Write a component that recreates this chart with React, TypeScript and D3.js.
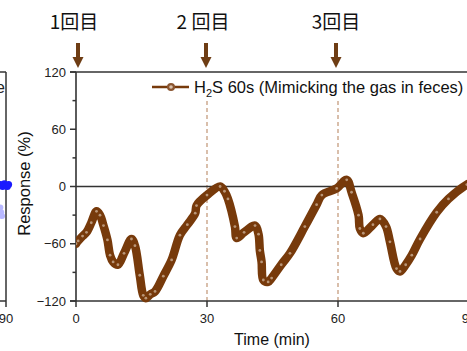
import { curveCatmullRom, line, scaleLinear } from "d3";

// H2S 60s response (time in min, response in %)
const times = [
  0, 0.5, 1.5, 2.4, 3.5, 4.7, 5.5, 6.3, 7.2, 7.8, 8.5, 9.6, 11, 12.7, 13.5, 14.6, 15.4, 16,
  17, 18.1, 20, 21.9, 23.8, 25.5, 27.3, 27.6, 30, 33, 34, 34.8, 36.4, 36.8, 38.5, 41, 41.8,
  42.1, 42.5, 42.9, 44, 44.8, 47, 49, 52.4, 55.1, 56.3, 59.7, 62, 63.1, 64.7, 65, 65.8, 68,
  69.6, 71, 71.9, 73.4, 74.2, 75.5, 76.9, 78.8, 82.6, 85.3, 89.5, 91,
];
const responses = [
  -60, -57, -52, -48, -38, -26, -30, -41, -56, -72, -79, -82, -70, -55, -62, -93, -114, -117,
  -113, -110, -94, -77, -51, -40, -28, -20, -9, 0, -5, -13, -42, -54, -48, -41, -50,
  -67, -79, -98, -100, -96, -82, -70, -42, -19, -9, -2, 7, -6, -30, -44, -49, -40,
  -34, -42, -58, -86, -89, -82, -72, -55, -27, -13, 2, 5,
];

// neighbouring panel, only its right edge is in view
const leftTimes = [88.7, 89.2, 89.6, 90, 90.3, 90.6];
const leftResponses = [2, 0, 3, 1, 0, 2];
const leftFaintTimes = [88.7, 88.9, 89.1];
const leftFaintResponses = [-22, -27, -31];

const xTicks = [0, 30, 60, 90];
const yTicks = [-120, -60, 0, 60, 120];
const yMinor = [-90, -30, 30, 90];
const runs = [
  { t: 0, label: "1回目", dx: 2, tx: -2 },
  { t: 30, label: "2 回目", dx: -1, tx: -4 },
  { t: 60, label: "3回目", dx: -2, tx: -2 },
];

const W = 467;
const H = 351;
const brown = "#773a0b";
const axis = "#333";
const font = "'Liberation Sans', Arial, sans-serif";

export default function App() {
  const x = scaleLinear().domain([0, 90]).range([76, 469]);
  const y = scaleLinear().domain([-120, 120]).range([301, 72]);
  const xl = scaleLinear().domain([0, 90]).range([6 - 393, 6]);

  const pts = times.map((t, i) => [t, responses[i]] as [number, number]);
  const path = line<[number, number]>()
    .curve(curveCatmullRom.alpha(0.5))
    .x((d) => x(d[0]))
    .y((d) => y(d[1]))(pts);

  return (
    <svg
      width={W}
      height={H}
      style={{ position: "absolute", left: 0, top: 0 }}
      fontFamily={font}
    >
      <defs>
        <clipPath id="plot">
          <rect x={x(0)} y={0} width={W} height={H} />
        </clipPath>
      </defs>

      {/* left neighbour panel */}
      <line x1={0} x2={xl(90)} y1={y(120)} y2={y(120)} stroke={axis} strokeWidth={1.5} />
      <line x1={0} x2={xl(90)} y1={y(-120)} y2={y(-120)} stroke={axis} strokeWidth={1.5} />
      <line x1={0} x2={xl(90)} y1={y(0)} y2={y(0)} stroke={axis} strokeWidth={1.5} />
      <line x1={xl(90)} x2={xl(90)} y1={y(120)} y2={y(-120)} stroke={axis} strokeWidth={1.5} />
      <line x1={xl(90)} x2={xl(90)} y1={y(-120)} y2={y(-120) + 6} stroke={axis} strokeWidth={1.5} />
      <text x={xl(90)} y={323} fontSize={13} textAnchor="middle" fill="#222">90</text>
      <text x={5} y={93} fontSize={16} textAnchor="end" fill="#222">e</text>
      {leftFaintTimes.map((t, i) => (
        <circle key={"f" + i} cx={xl(t)} cy={y(leftFaintResponses[i])} r={3} fill="#b8b8ff" />
      ))}
      {leftTimes.map((t, i) => (
        <circle key={"b" + i} cx={xl(t)} cy={y(leftResponses[i])} r={3.5} fill="#1a1aff" />
      ))}

      {/* dashed run markers */}
      {[30, 60].map((t) => (
        <line
          key={t}
          x1={x(t)}
          x2={x(t)}
          y1={101}
          y2={y(-120)}
          stroke="#c9a488"
          strokeWidth={1.4}
          strokeDasharray="4 3"
        />
      ))}

      {/* frame lines */}
      <line x1={x(0) - 6} x2={W} y1={y(120)} y2={y(120)} stroke={axis} strokeWidth={1.6} />
      <line x1={x(0)} x2={W} y1={y(0)} y2={y(0)} stroke={axis} strokeWidth={1.6} />
      <line x1={x(0) - 6} x2={W} y1={y(-120)} y2={y(-120)} stroke={axis} strokeWidth={1.6} />
      <line x1={x(0)} x2={x(0)} y1={y(120)} y2={y(-120)} stroke={axis} strokeWidth={1.6} />

      {yTicks.map((v) => (
        <g key={v}>
          <line x1={x(0) - 6} x2={x(0)} y1={y(v)} y2={y(v)} stroke={axis} strokeWidth={1.5} />
          <text x={x(0) - 10} y={y(v) + 4.5} fontSize={13} textAnchor="end" fill="#222">
            {v < 0 ? "\u2212" + Math.abs(v) : v}
          </text>
        </g>
      ))}
      {yMinor.map((v) => (
        <line key={v} x1={x(0) - 3.5} x2={x(0)} y1={y(v)} y2={y(v)} stroke={axis} strokeWidth={1.5} />
      ))}
      {xTicks.map((t) => (
        <g key={t}>
          <line x1={x(t)} x2={x(t)} y1={y(-120)} y2={y(-120) + 6} stroke={axis} strokeWidth={1.5} />
          <text x={x(t)} y={323} fontSize={13} textAnchor="middle" fill="#222">{t}</text>
        </g>
      ))}

      {/* series */}
      <g clipPath="url(#plot)">
        <path
          d={path!}
          fill="none"
          stroke={brown}
          strokeWidth={8.5}
          strokeLinejoin="round"
          strokeLinecap="round"
        />
        {pts.map((d, i) => (
          <circle key={i} cx={x(d[0])} cy={y(d[1])} r={1.4} fill="#e6d4c2" opacity={0.6} />
        ))}
      </g>

      {/* legend */}
      <line x1={152} x2={189} y1={87} y2={87} stroke={brown} strokeWidth={2.5} />
      <circle cx={171} cy={87} r={4} fill="#8a5530" />
      <circle cx={171} cy={87} r={1.8} fill="#d9c2ad" />
      <text x={194} y={93} fontSize={16.5} fill="#111">
        H<tspan fontSize={11} dy={4}>2</tspan>
        <tspan dy={-4}>S 60s (Mimicking the gas in feces)</tspan>
      </text>

      {/* arrows and run labels */}
      {runs.map((r) => (
        <g key={r.t} fill="#6e3d14">
          <rect x={x(r.t) + r.dx - 2} y={43} width={4} height={15} />
          <path
            d={`M${x(r.t) + r.dx - 5.5},57 L${x(r.t) + r.dx + 5.5},57 L${x(r.t) + r.dx},68 Z`}
          />
          <text
            x={x(r.t) + r.tx}
            y={29}
            fontSize={19}
            textAnchor="middle"
            fill="#111"
            fontFamily="'Noto Sans CJK JP', sans-serif"
          >
            {r.label}
          </text>
        </g>
      ))}

      {/* axis titles */}
      <text x={272} y={345} fontSize={16} textAnchor="middle" fill="#111">Time (min)</text>
      <text
        transform={`translate(30,${y(0) - 3}) rotate(-90)`}
        fontSize={16.5}
        textAnchor="middle"
        fill="#111"
      >
        Response (%)
      </text>
    </svg>
  );
}
